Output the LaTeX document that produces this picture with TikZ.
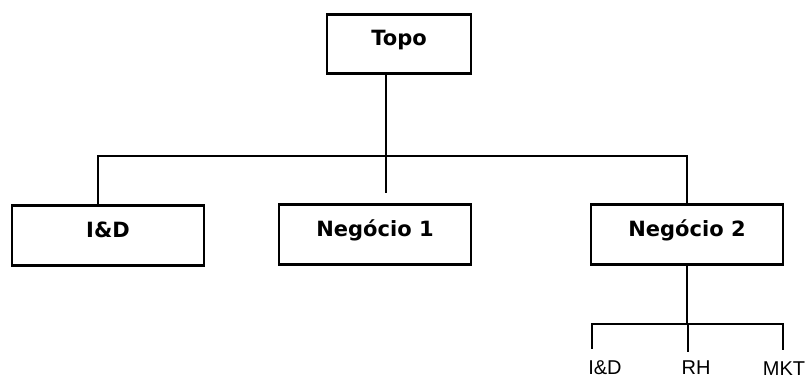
\documentclass[tikz,border=0pt]{standalone}
\usepackage{fontspec}
\newfontfamily\boxfont{DejaVu Sans}
\newfontfamily\labelfont{Liberation Sans}
\begin{document}
\begin{tikzpicture}[x=1pt,y=-1pt,
  orgline/.style={line width=2.8pt, line cap=rect},
  unitbox/.style={draw, line width=2.6pt, inner sep=0pt,
    font=\boxfont\bfseries\fontsize{21}{24}\selectfont,
    text height=32pt, text depth=28pt},
  sublabel/.style={anchor=base, inner sep=0pt,
    font=\labelfont\fontsize{20}{24}\selectfont}]
  \useasboundingbox (0,0) rectangle (808,379);

  % boxes
  \node[unitbox, minimum width=144pt, text height=31pt, text depth=28pt]
    (topo) at (399,13) [anchor=north] {Topo};
  \node[unitbox, minimum width=192pt] (id) at (108,204) [anchor=north] {I\&D};
  \node[unitbox, minimum width=192pt] (neg1) at (375,203) [anchor=north] {Negócio 1};
  \node[unitbox, minimum width=192pt] (neg2) at (687,203) [anchor=north] {Negócio 2};

  % junction points of the upper tree
  \coordinate (stem) at (386,192);
  \coordinate (busL) at (98,156);
  \coordinate (busR) at (687,156);

  \draw[orgline] (topo.south -| stem) -- (stem);
  \draw[orgline] (id.north -| busL) |- (busR) -- (neg2.north);

  % lower branch under Negócio 2
  \coordinate (subL) at (592,324);
  \coordinate (subM) at (688,324);
  \coordinate (subR) at (783,324);
  \draw[orgline] (neg2.south) -- (neg2.south |- subM);
  \draw[orgline] (592,348) -- (subL) -- (subR);
  \draw[orgline] (subM) -- (688,351);
  \draw[orgline] (783,326) -- (783,349);

  \node[sublabel] (lid) at (605,374) {I\&D};
  \node[sublabel] (lrh) at (696,374) {RH};
  \node[sublabel] (lmkt) at (784,375) {MKT};
\end{tikzpicture}
\end{document}
